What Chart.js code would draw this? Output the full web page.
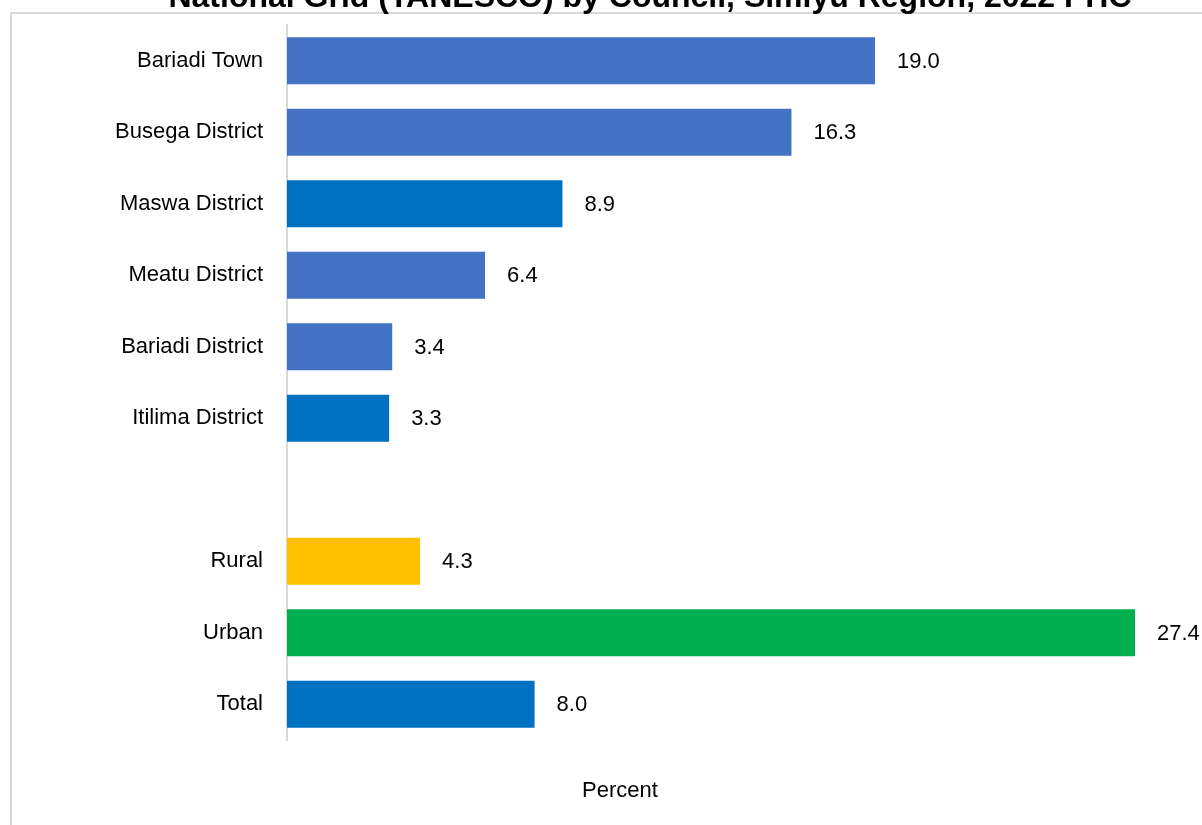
<!DOCTYPE html>
<html>
<head>
<meta charset="utf-8">
<script src="https://cdn.jsdelivr.net/npm/chart.js@4.4.0/dist/chart.umd.min.js"></script>
<style>
    body { margin: 0; background: #fff; overflow: hidden; }
    #frame { position: absolute; left: 10px; top: 12px; width: 1300px; height: 900px; border: 2px solid #D9D9D9; box-sizing: border-box; }
    #wrap { position: absolute; left: 0; top: 0; width: 1202px; height: 825px; }
</style>
</head>
<body>
<div id="frame"></div>
<div id="wrap"><canvas id="chart" width="1202" height="825"></canvas></div>
<script>
// Households connected to the national grid, by council
const councils = ['Bariadi Town', 'Busega District', 'Maswa District', 'Meatu District', 'Bariadi District', 'Itilima District', '', 'Rural', 'Urban', 'Total'];
const percents = [19.0, 16.3, 8.9, 6.4, 3.4, 3.3, null, 4.3, 27.4, 8.0];
const barColors = ['#4472C4', '#4472C4', '#0070C0', '#4472C4', '#4472C4', '#0070C0', '#ffffff', '#FFC000', '#00B050', '#0070C0'];
const titleText = 'National Grid (TANESCO) by Council, Simiyu Region, 2022 PHC';
const axisTitle = 'Percent';

const labelFont = '22px "Liberation Sans Narrow", "Arial Narrow", sans-serif';

// value labels at the end of each bar
const valueLabels = {
    id: 'valueLabels',
    afterDatasetsDraw(chart) {
        const ctx = chart.ctx;
        const meta = chart.getDatasetMeta(0);
        ctx.save();
        ctx.font = labelFont;
        ctx.fillStyle = '#000';
        ctx.textAlign = 'left';
        ctx.textBaseline = 'middle';
        meta.data.forEach((bar, i) => {
            if (percents[i] == null) return;
            ctx.fillText(percents[i].toFixed(1), bar.x + 22, bar.y + 1);
        });
        ctx.restore();
    }
};

// title (partly cut at the top) and the axis title
const titles = {
    id: 'titles',
    afterDraw(chart) {
        const ctx = chart.ctx;
        ctx.save();
        ctx.fillStyle = '#000';
        ctx.textAlign = 'center';
        ctx.textBaseline = 'alphabetic';
        ctx.font = 'bold 32px "Liberation Sans", Arial, sans-serif';
        ctx.fillText(titleText, 650, 7);
        ctx.font = labelFont;
        ctx.textBaseline = 'middle';
        ctx.fillText(axisTitle, 620, 791);
        ctx.restore();
    }
};

new Chart(document.getElementById('chart'), {
    type: 'bar',
    data: {
        labels: councils,
        datasets: [{
            data: percents,
            backgroundColor: barColors,
            borderWidth: 0,
            barPercentage: 0.66,
            categoryPercentage: 1
        }]
    },
    options: {
        indexAxis: 'y',
        responsive: false,
        animation: false,
        layout: { padding: { top: 25, bottom: 85, left: 0, right: 67 } },
        plugins: {
            legend: { display: false },
            tooltip: { enabled: false }
        },
        scales: {
            x: {
                display: false,
                min: 0,
                max: 27.4
            },
            y: {
                afterFit: (scale) => {
                    scale.width = 287;
                    scale.paddingTop = 0;
                    scale.paddingBottom = 0;
                },
                grid: { display: false, drawTicks: false },
                border: { display: true, color: '#D9D9D9', width: 2 },
                ticks: {
                    color: '#000',
                    padding: 24,
                    font: { family: '"Liberation Sans Narrow", "Arial Narrow", sans-serif', size: 22 }
                }
            }
        }
    },
    plugins: [valueLabels, titles]
});
</script>
</body>
</html>
